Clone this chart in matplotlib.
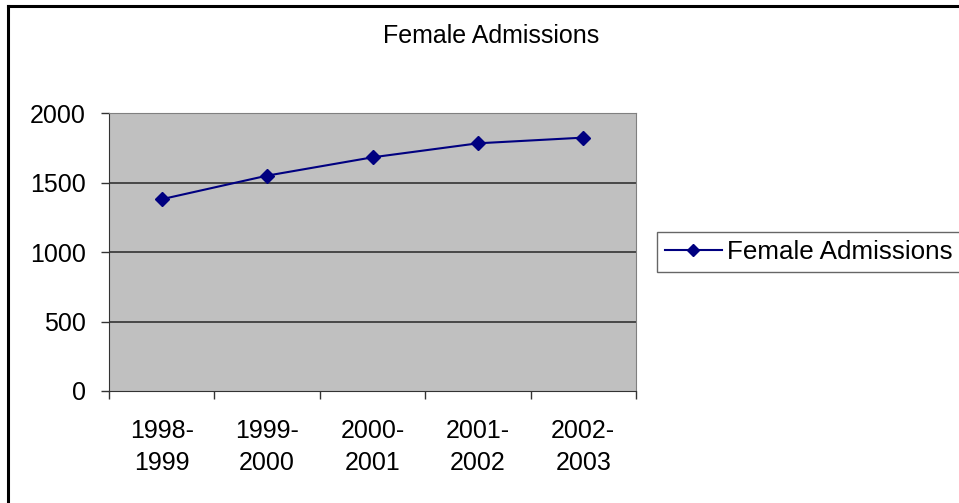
import matplotlib.pyplot as plt
from matplotlib.lines import Line2D

plt.rcParams['font.family'] = ['Liberation Sans', 'DejaVu Sans']

years = ['1998-\n1999', '1999-\n2000', '2000-\n2001', '2001-\n2002', '2002-\n2003']
admissions = [1382, 1552, 1684, 1785, 1826]
y_ticks = [0, 500, 1000, 1500, 2000]
series_name = 'Female Admissions'

fig = plt.figure(figsize=(9.59, 5.03), dpi=100)

# outer chart frame: only top and left edges are visible in the reference
fig.add_artist(Line2D([0.0085, 0.0085], [0, 0.989], color='black', lw=2.2,
                      transform=fig.transFigure))
fig.add_artist(Line2D([0.0085, 1], [0.989, 0.989], color='black', lw=2.2,
                      transform=fig.transFigure))

ax = fig.add_axes([0.1137, 0.2227, 0.5495, 0.5517])
ax.set_facecolor('#C0C0C0')
x = list(range(len(years)))
ax.plot(x, admissions, color='#000080', lw=1.5, marker='D', markersize=7.5,
        label=series_name)

ax.set_xlim(-0.5, len(years) - 0.5)
ax.set_ylim(0, 2000)
ax.set_yticks(y_ticks)
ax.set_yticklabels([str(v) for v in y_ticks])
for v in y_ticks[1:]:
    ax.axhline(v, color='#333333', lw=1.2, zorder=1)

ax.set_xticks(x)
ax.set_xticklabels(years, linespacing=1.42)
ax.set_xticks([i - 0.5 for i in range(len(years) + 1)], minor=True)
ax.tick_params(axis='x', which='major', length=0, pad=20, labelsize=18)
ax.tick_params(axis='x', which='minor', length=6, width=1, color='#333333')
ax.tick_params(axis='y', length=6, width=1, color='#333333', labelsize=18, pad=10.5)

for side in ['top', 'right']:
    ax.spines[side].set_color('#808080')
for side in ['left', 'bottom']:
    ax.spines[side].set_color('#333333')

fig.text(491 / 959, 1 - 36 / 503, series_name, fontsize=18, ha='center', va='center')

leg = fig.legend(loc='upper left', bbox_to_anchor=(657 / 959, 1 - 232 / 503),
                 fontsize=18.7, frameon=True, fancybox=False, borderpad=0.3,
                 handlelength=2.2, handletextpad=0.2, borderaxespad=0,
                 markerscale=0.85)
leg.get_frame().set_edgecolor('#404040')
leg.get_frame().set_linewidth(1)

fig.savefig('out.png', dpi=100)
